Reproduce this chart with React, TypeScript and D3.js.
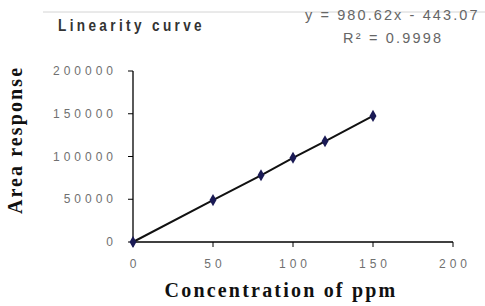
import React from "react";
import * as d3 from "d3";

const concentrations = [0, 50, 80, 100, 120, 150];
const responses = [0, 49000, 78000, 98500, 117800, 147500];
const yTicks = [0, 50000, 100000, 150000, 200000];
const xTicks = [0, 50, 100, 150, 200];
const title = "Linearity curve";
const equation = "y = 980.62x - 443.07";
const rSquared = "R\u00B2 = 0.9998";

const SANS = "Arial, 'Liberation Sans', sans-serif";
const SERIF = "'Liberation Serif', 'Times New Roman', serif";

export default function App() {
  const W = 485, H = 306;
  const x = d3.scaleLinear().domain([0, 200]).range([133, 453]);
  const y = d3.scaleLinear().domain([0, 200000]).range([242, 71]);
  const pts = concentrations.map((c, i) => [x(c), y(responses[i])] as [number, number]);
  const line = d3.line()(pts) as string;
  const tickFont = { fontFamily: SANS, fontSize: 12, fill: "#707070", letterSpacing: 4 };
  const sx = 0.8;
  return (
    <svg width={W} height={H} style={{ position: "absolute", left: 0, top: 0 }}>
      <rect width={W} height={H} fill="#fff" />
      <line x1={43} x2={485} y1={12} y2={12} stroke="#d4d4d4" strokeWidth={1} />
      <g transform={`scale(${sx},1)`}>
        <text x={58 / sx} y={31} style={{ fontFamily: SANS, fontSize: 17, fill: "#333", letterSpacing: 4.2, fontWeight: "bold" }}>{title}</text>
      </g>
      <text x={305} y={20} style={{ fontFamily: SANS, fontSize: 14.5, fill: "#666", letterSpacing: 2.1 }}>{equation}</text>
      <text x={343} y={43} style={{ fontFamily: SANS, fontSize: 14.5, fill: "#666", letterSpacing: 2.2 }}>{rSquared}</text>
      <line x1={x(0)} x2={x(0)} y1={y(200000)} y2={y(0)} stroke="#000" strokeWidth={1.3} />
      <line x1={x(0)} x2={x(200)} y1={y(0)} y2={y(0)} stroke="#000" strokeWidth={1.3} />
      {yTicks.map((t) => (
        <g key={"y" + t}>
          <line x1={x(0) - 5} x2={x(0)} y1={y(t)} y2={y(t)} stroke="#000" strokeWidth={1} />
          <text x={117} y={y(t) + 4} textAnchor="end" style={tickFont}>{t}</text>
        </g>
      ))}
      {xTicks.map((t) => (
        <g key={"x" + t}>
          <line x1={x(t)} x2={x(t)} y1={y(0)} y2={y(0) + 5} stroke="#000" strokeWidth={1} />
          <text x={x(t) + 2} y={267.5} textAnchor="middle" style={tickFont}>{t}</text>
        </g>
      ))}
      <path d={line} fill="none" stroke="#111" strokeWidth={2} />
      {pts.map((p, i) => (
        <path key={i} d={d3.symbol(d3.symbolDiamond, 42)() as string} transform={`translate(${p[0]},${p[1]})`} fill="#1a1a55" />
      ))}
      <text transform={`translate(22,140) rotate(-90)`} textAnchor="middle" style={{ fontFamily: SERIF, fontSize: 20, fontWeight: "bold", letterSpacing: 2.1, fill: "#111" }}>Area response</text>
      <text x={281} y={297} textAnchor="middle" style={{ fontFamily: SERIF, fontSize: 20, fontWeight: "bold", letterSpacing: 2.2, fill: "#111" }}>Concentration of ppm</text>
    </svg>
  );
}
